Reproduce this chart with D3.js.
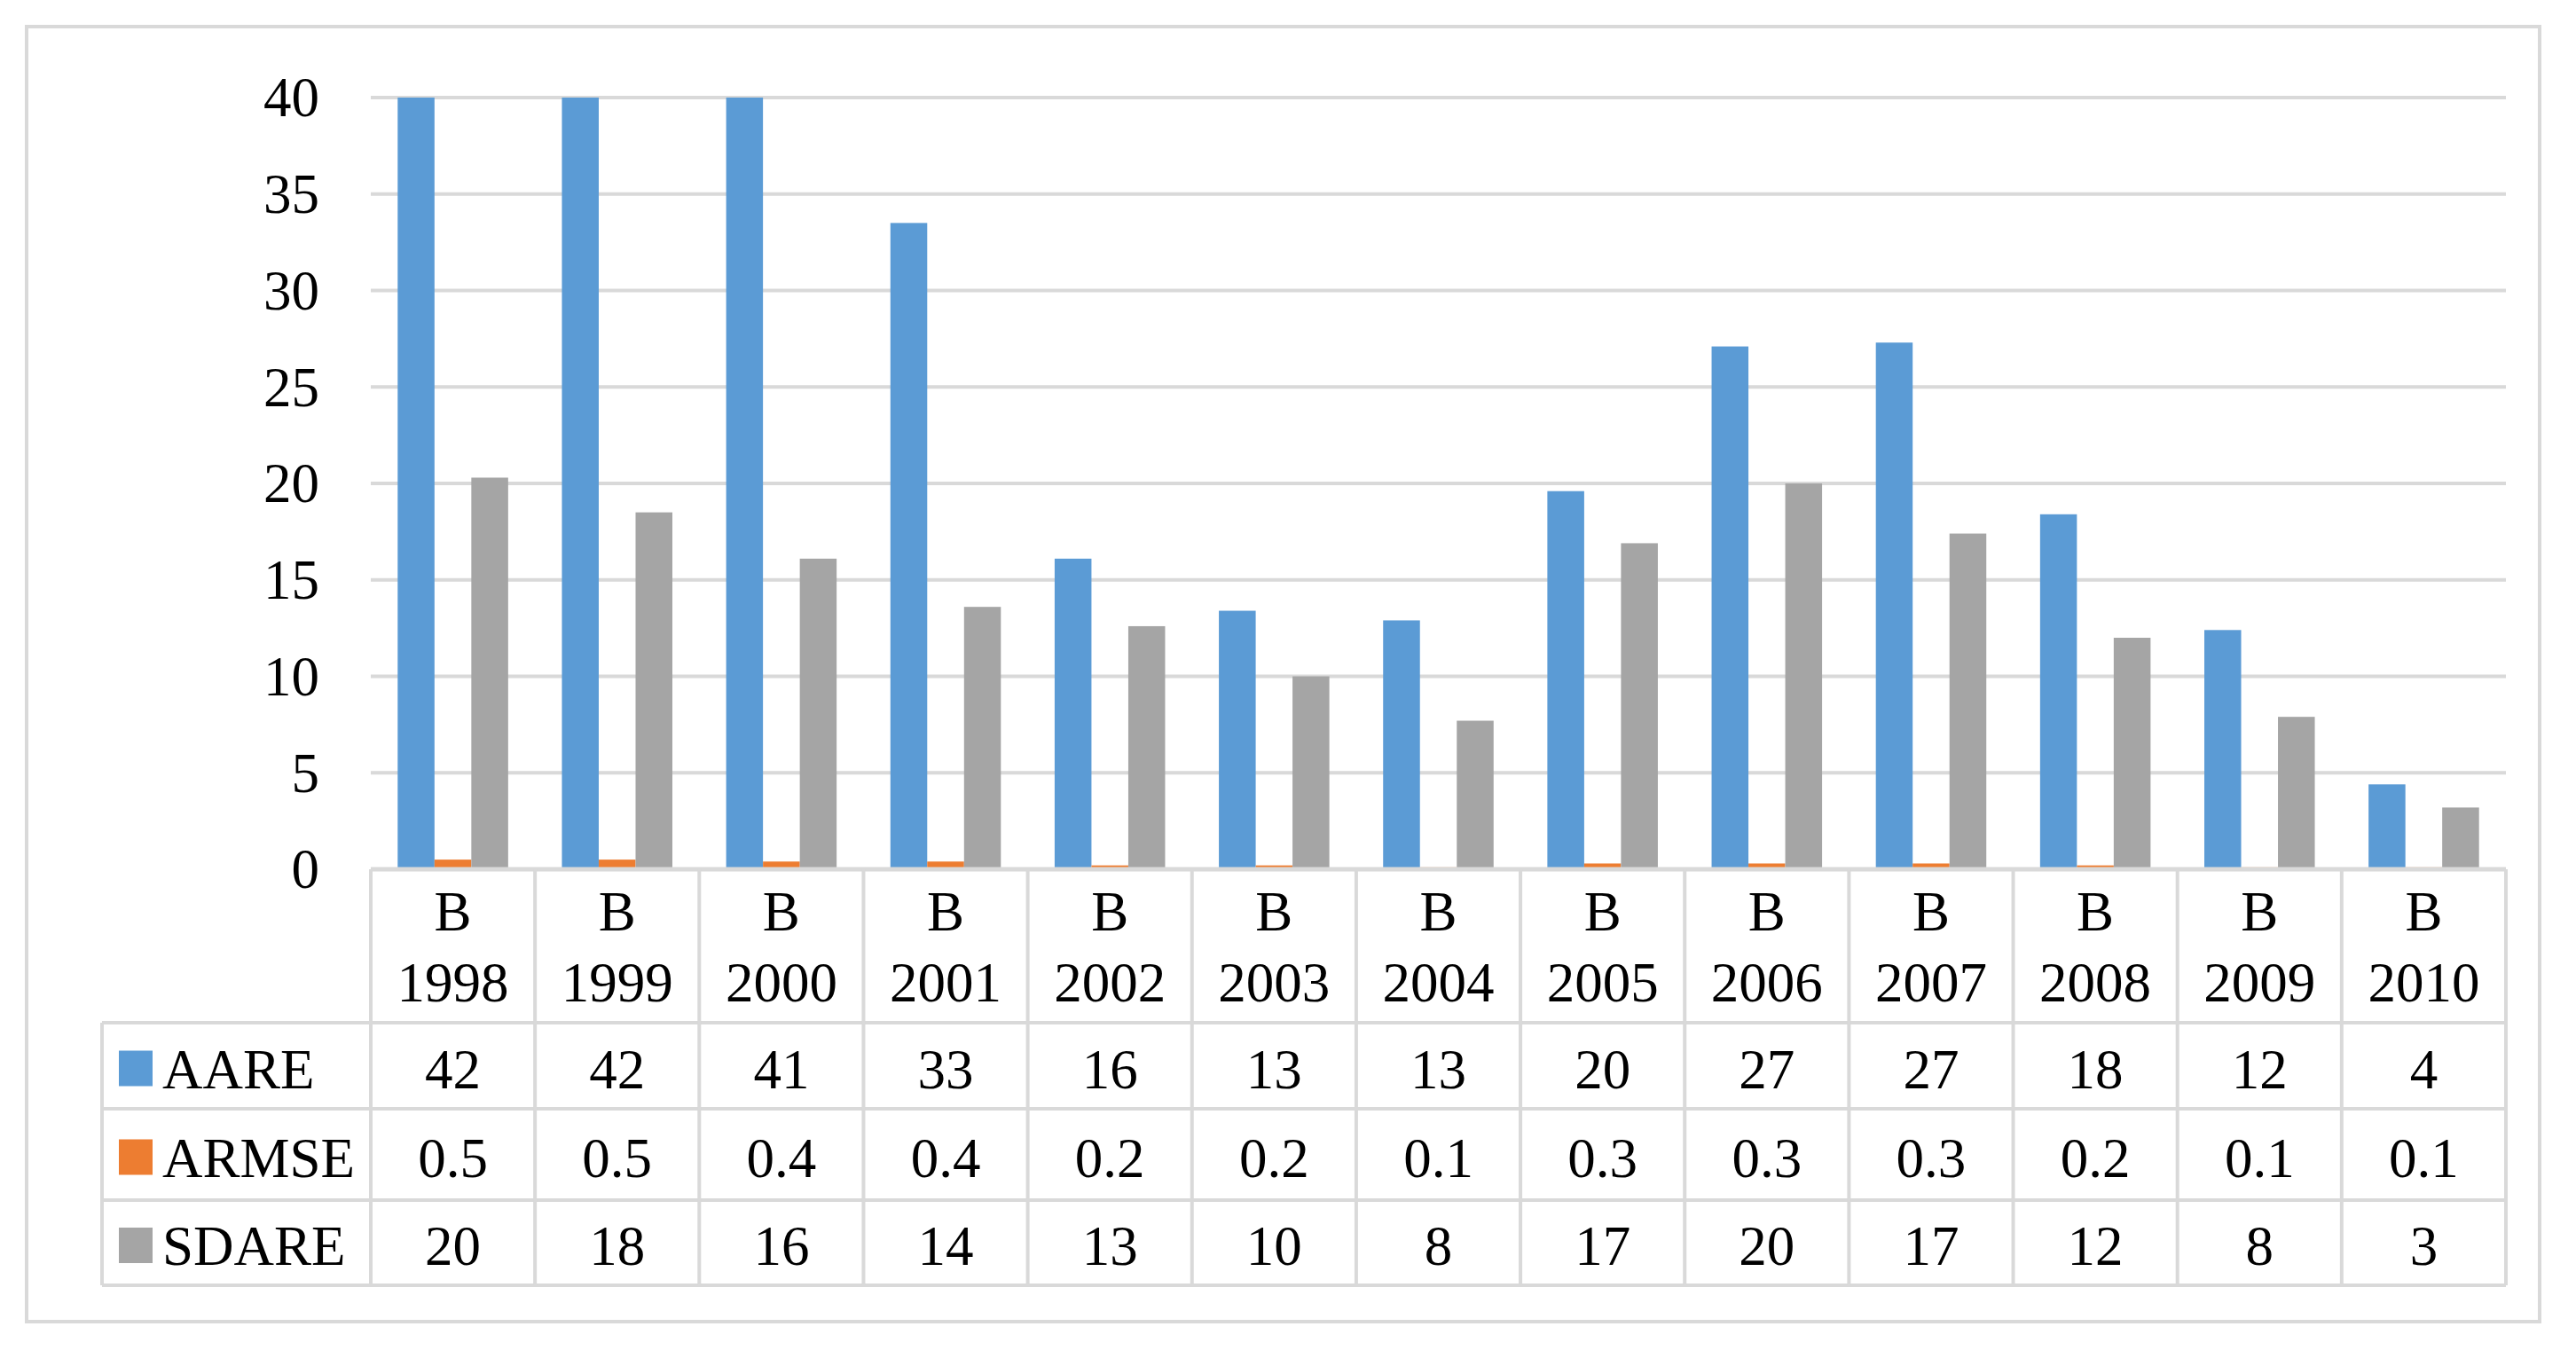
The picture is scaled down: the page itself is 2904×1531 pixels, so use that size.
<!DOCTYPE html>
<html>
<head>
<meta charset="utf-8">
<script src="https://cdn.jsdelivr.net/npm/d3@7/dist/d3.min.js"></script>
<style>
  html, body { margin: 0; padding: 0; background: #ffffff; }
  svg { display: block; }
  text { font-family: "Liberation Serif", "Times New Roman", serif; fill: #000; }
</style>
</head>
<body>
<svg id="chart" width="2904" height="1531"></svg>
<script>
// ---------------- data ----------------
const categories = ["1998","1999","2000","2001","2002","2003","2004","2005","2006","2007","2008","2009","2010"];
const categoryPrefix = "B";
const seriesNames = ["AARE", "ARMSE", "SDARE"];
const seriesColors = ["#5b9bd5", "#ed7d31", "#a5a5a5"];
// bar heights
const aareValues  = [42, 42, 41, 33.5, 16.1, 13.4, 12.9, 19.6, 27.1, 27.3, 18.4, 12.4, 4.4];
const armseValues = [0.5, 0.5, 0.4, 0.4, 0.2, 0.2, 0.1, 0.3, 0.3, 0.3, 0.2, 0.1, 0.1];
const sdareValues = [20.3, 18.5, 16.1, 13.6, 12.6, 10.0, 7.7, 16.9, 20.0, 17.4, 12.0, 7.9, 3.2];
// data-table labels
const aareLabels  = ["42","42","41","33","16","13","13","20","27","27","18","12","4"];
const armseLabels = ["0.5","0.5","0.4","0.4","0.2","0.2","0.1","0.3","0.3","0.3","0.2","0.1","0.1"];
const sdareLabels = ["20","18","16","14","13","10","8","17","20","17","12","8","3"];
const yTicks = [0, 5, 10, 15, 20, 25, 30, 35, 40];

// ---------------- layout ----------------
const svg = d3.select("#chart");
const gridColor = "#d9d9d9";
const fontSize = 63;
const plotLeft = 418, plotRight = 2825, plotTop = 110, plotBottom = 980;
const legendLeft = 115;
const rowEdges = [980, 1153, 1250, 1353, 1449];

const seriesValues = [aareValues, armseValues, sdareValues];
const seriesLabels = [aareLabels, armseLabels, sdareLabels];

// outer frame
svg.append("rect")
  .attr("x", 30).attr("y", 30).attr("width", 2833).attr("height", 1460)
  .attr("fill", "#fff").attr("stroke", gridColor).attr("stroke-width", 4);

const x = d3.scaleBand().domain(categories).range([plotLeft, plotRight]).paddingInner(0).paddingOuter(0);
const xs = d3.scaleBand().domain(seriesNames).range([0, x.bandwidth()]).paddingInner(0).paddingOuter(0.73);
const y = d3.scaleLinear().domain([0, 40]).range([plotBottom, plotTop]).clamp(true);

// gridlines
svg.append("g").selectAll("line").data(yTicks).join("line")
  .attr("x1", plotLeft).attr("x2", plotRight)
  .attr("y1", d => y(d)).attr("y2", d => y(d))
  .attr("stroke", gridColor).attr("stroke-width", 4);

// y-axis labels
const yAxis = d3.axisLeft(y).tickValues(yTicks).tickSize(0).tickPadding(0).tickFormat(d3.format("d"));
const yg = svg.append("g").attr("transform", "translate(360,0)").call(yAxis);
yg.select(".domain").remove();
yg.selectAll("text")
  .attr("font-family", "Liberation Serif, Times New Roman, serif")
  .attr("font-size", fontSize).attr("fill", "#000").attr("dy", "0.33em");

// bars
seriesNames.forEach((s, si) => {
  svg.append("g").selectAll("rect").data(categories).join("rect")
    .attr("x", c => x(c) + xs(s))
    .attr("width", xs.bandwidth())
    .attr("y", (c, i) => y(seriesValues[si][i]))
    .attr("height", (c, i) => y(0) - y(seriesValues[si][i]))
    .attr("fill", seriesColors[si]);
});

// data table lines
const tg = svg.append("g");
tg.append("line").attr("x1", plotLeft).attr("x2", plotRight).attr("y1", rowEdges[0]).attr("y2", rowEdges[0])
  .attr("stroke", gridColor).attr("stroke-width", 5);
rowEdges.slice(1).forEach(r => {
  tg.append("line").attr("x1", legendLeft).attr("x2", plotRight).attr("y1", r).attr("y2", r)
    .attr("stroke", gridColor).attr("stroke-width", 4);
});
tg.append("line").attr("x1", legendLeft).attr("x2", legendLeft).attr("y1", rowEdges[1]).attr("y2", rowEdges[4])
  .attr("stroke", gridColor).attr("stroke-width", 4);
tg.selectAll("line.col").data(categories.concat(["end"])).join("line").attr("class", "col")
  .attr("x1", (c, i) => plotLeft + i * x.step()).attr("x2", (c, i) => plotLeft + i * x.step())
  .attr("y1", rowEdges[0]).attr("y2", rowEdges[4])
  .attr("stroke", gridColor).attr("stroke-width", 4);

// header texts
const hg = svg.append("g");
hg.selectAll("text.pre").data(categories).join("text").attr("class", "pre")
  .attr("x", c => x(c) + x.bandwidth() / 2).attr("y", 1027).attr("dy", "0.35em")
  .attr("text-anchor", "middle").attr("font-size", fontSize).text(categoryPrefix);
hg.selectAll("text.yr").data(categories).join("text").attr("class", "yr")
  .attr("x", c => x(c) + x.bandwidth() / 2).attr("y", 1107).attr("dy", "0.35em")
  .attr("text-anchor", "middle").attr("font-size", fontSize).text(c => c);

// value rows + legend
seriesNames.forEach((s, si) => {
  const cy = (rowEdges[si + 1] + rowEdges[si + 2]) / 2 + 3;
  const g = svg.append("g");
  g.append("rect").attr("x", 134).attr("y", cy - 20).attr("width", 38).attr("height", 40)
    .attr("fill", seriesColors[si]);
  g.append("text").attr("x", 183).attr("y", cy).attr("dy", "0.35em")
    .attr("font-size", fontSize).text(s);
  g.selectAll("text.v").data(categories).join("text").attr("class", "v")
    .attr("x", c => x(c) + x.bandwidth() / 2).attr("y", cy).attr("dy", "0.35em")
    .attr("text-anchor", "middle").attr("font-size", fontSize)
    .text((c, i) => seriesLabels[si][i]);
});
</script>
</body>
</html>
